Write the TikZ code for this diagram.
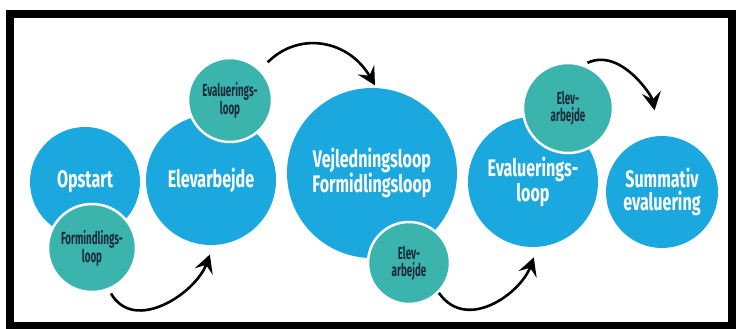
\documentclass[tikz,border=0pt]{standalone}
\usepackage{fontspec}
\newfontfamily\bigfont[FakeStretch=0.67]{Fira Sans}
\newfontfamily\smallfont[FakeStretch=0.56]{Fira Sans}
\usetikzlibrary{arrows.meta}
\definecolor{bigblue}{HTML}{1BA8DF}
\definecolor{loopteal}{HTML}{3BB4AE}
\definecolor{navy}{HTML}{1B2A3A}
\begin{document}
\begin{tikzpicture}[x=1pt, y=1pt,
  b/.style={circle, fill=bigblue, text=white, align=center, inner sep=0pt,
    font=\bigfont\bfseries\fontsize{24}{23}\selectfont},
  s/.style={circle, fill=loopteal, draw=white, line width=2.5pt, text=navy,
    align=center, inner sep=0pt, font=\smallfont\bfseries\fontsize{17.5}{17}\selectfont},
  a/.style={line width=2.6pt, -{Stealth[length=18pt,width=19pt,inset=7pt]}}
]
\useasboundingbox (0,0) rectangle (736,329);
\draw[line width=8pt] (10,3) rectangle (732,315);

% main steps
\node[b, minimum size=110pt] (op) at (85,147) {Opstart};
\node[b, minimum size=130pt] (el) at (211,149) {Elevarbejde};
\node[b, minimum size=170pt] (vj) at (372,156) {Vejledningsloop\\Formidlingsloop};
\node[b, minimum size=130pt] (ev) at (533,147) {Evaluerings-\\loop};
\node[b, minimum size=112pt] (su) at (662,137) {Summativ\\evaluering};

% loops
\node[s, minimum size=88pt] (fl) at (92,81) {Formindlings-\\loop};
\node[s, minimum size=84pt] (el1) at (230,229) {Evaluerings-\\loop};
\node[s, minimum size=82pt] (ea1) at (409,66) {Elev-\\arbejde};
\node[s, minimum size=90pt] (ea2) at (568,221) {Elev-\\arbejde};

% arrows
\draw[a, shorten <=4pt, shorten >=10pt] (fl.-68) to[out=-60,in=-110,looseness=1.15] (el.-88);
\draw[a, shorten <=10pt, shorten >=3pt] (el1.45) to[out=45,in=120,looseness=1.2] (vj.87);
\draw[a, shorten >=11pt] (ea1.-45) to[out=-55,in=-110,looseness=1.15] (ev.-86);
\draw[a, shorten <=4pt, shorten >=26pt] (ea2.70) to[out=25,in=100] (su.93);
\end{tikzpicture}
\end{document}
